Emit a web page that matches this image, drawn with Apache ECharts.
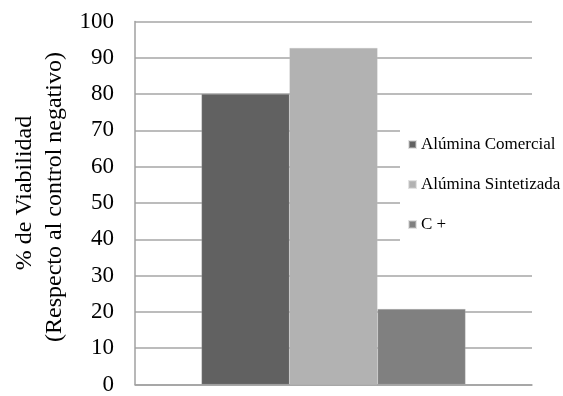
<!DOCTYPE html>
<html><head><meta charset="utf-8">
<script src="https://cdn.jsdelivr.net/npm/echarts@6/dist/echarts.min.js"></script>
<style>html,body{margin:0;padding:0;background:#fff}#c{width:563px;height:396px}</style>
</head><body><div id="c"></div>
<script>
var categories = [''];
var seriesNames = ['Alúmina Comercial', 'Alúmina Sintetizada', 'C +'];
var seriesValues = [[80.0], [92.7], [20.8]];
var seriesColors = ['#616161', '#b2b2b2', '#808080'];
var yTicks = {min: 0, max: 100, interval: 10};
var yTitle = ['% de Viabilidad', '(Respecto al control negativo)'];

var font = '"Liberation Serif", "Times New Roman", serif';
var chart = echarts.init(document.getElementById('c'), null, {renderer: 'canvas'});
var series = seriesNames.map(function (n, i) {
  return {
    name: n, type: 'bar', data: seriesValues[i], barWidth: 88, barGap: '0%',
    itemStyle: {color: seriesColors[i], borderColor: 'rgba(200,200,200,0.5)', borderWidth: 0.5}, z: 2
  };
});
chart.setOption({
  animation: false,
  backgroundColor: '#fff',
  grid: {left: 135, right: 31, top: 21.5, bottom: 7, containLabel: false},
  xAxis: {
    type: 'category', data: categories,
    axisLine: {show: true, lineStyle: {color: '#a0a0a0', width: 1.5}},
    axisTick: {show: false}, axisLabel: {show: false}
  },
  yAxis: {
    type: 'value', min: yTicks.min, max: yTicks.max, interval: yTicks.interval,
    axisLine: {show: true, lineStyle: {color: '#a0a0a0', width: 1.5}},
    axisTick: {show: false},
    splitLine: {show: true, lineStyle: {color: '#a6a6a6', width: 1.5}},
    axisLabel: {margin: 21, color: '#000', fontFamily: font, fontSize: 23}
  },
  legend: {
    orient: 'vertical', left: 400, top: 128, padding: [8, 6, 10, 8],
    backgroundColor: '#fff', itemGap: 23, itemWidth: 7, itemHeight: 7, icon: 'rect',
    textStyle: {fontFamily: font, fontSize: 17, color: '#000'}, z: 10
  },
  graphic: [
    {type: 'text', x: 25, y: 193, rotation: Math.PI / 2,
     style: {text: yTitle[0], font: '24px ' + font, fill: '#000', textAlign: 'center', textVerticalAlign: 'middle'}},
    {type: 'text', x: 55, y: 197, rotation: Math.PI / 2,
     style: {text: yTitle[1], font: '24px ' + font, fill: '#000', textAlign: 'center', textVerticalAlign: 'middle'}}
  ],
  series: series
});
</script></body></html>
